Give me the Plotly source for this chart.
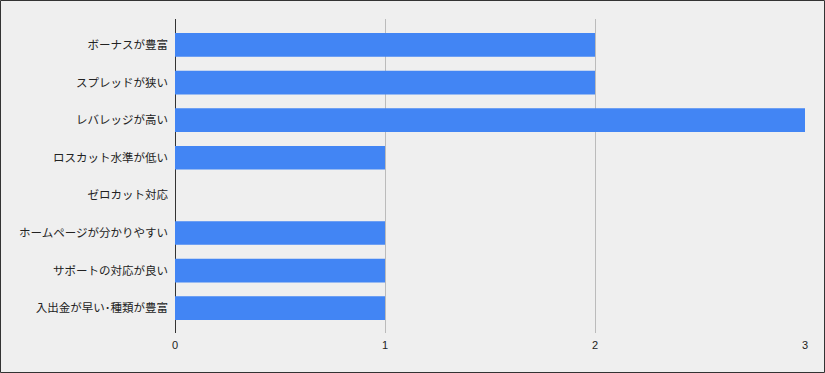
import plotly.graph_objects as go

categories = ["ボーナスが豊富", "スプレッドが狭い", "レバレッジが高い", "ロスカット水準が低い",
              "ゼロカット対応", "ホームページが分かりやすい", "サポートの対応が良い", "入出金が早い･種類が豊富"]
values = [2, 2, 3, 1, 0, 1, 1, 1]
x_ticks = [0, 1, 2, 3]

W, H = 825, 373
ml, mr, mt, mb = 175, 20, 19, 40
pw, ph = W - ml - mr, H - mt - mb

fig = go.Figure(go.Bar(
    x=values, y=categories, orientation="h",
    marker=dict(color="#4285f4", line=dict(width=0)),
    width=0.63,
))

fig.update_layout(
    width=W, height=H,
    margin=dict(l=ml, r=mr, t=mt, b=mb, pad=0),
    paper_bgcolor="#efefef", plot_bgcolor="#efefef",
    font=dict(family="Arial, 'Liberation Sans', 'Noto Sans CJK JP', sans-serif", size=11, color="#222222"),
    showlegend=False,
    xaxis=dict(range=[0, 3], tickvals=x_ticks, ticktext=[str(v) for v in x_ticks],
               showgrid=True, gridcolor="#bbbbbb", gridwidth=1,
               zeroline=True, zerolinecolor="#333333", zerolinewidth=1,
               showline=False, ticks="", ticklabelstandoff=4,
               tickfont=dict(size=11, color="#222222")),
    yaxis=dict(range=[7.66, -0.69], showgrid=False, zeroline=False, showline=False,
               ticks="", ticklabelstandoff=6, tickfont=dict(size=11.5, color="#222222")),
)

fig.add_shape(type="rect", xref="paper", yref="paper",
              x0=(0.5 - ml) / pw, x1=(W - 0.5 - ml) / pw,
              y0=-(mb - 0.5) / ph, y1=1 + (mt - 0.5) / ph,
              line=dict(color="#333333", width=1), fillcolor="rgba(0,0,0,0)", layer="above")

fig.write_html("out.html", config={"displayModeBar": False},
               post_script="document.body.style.margin='0';document.body.style.overflow='hidden';")
